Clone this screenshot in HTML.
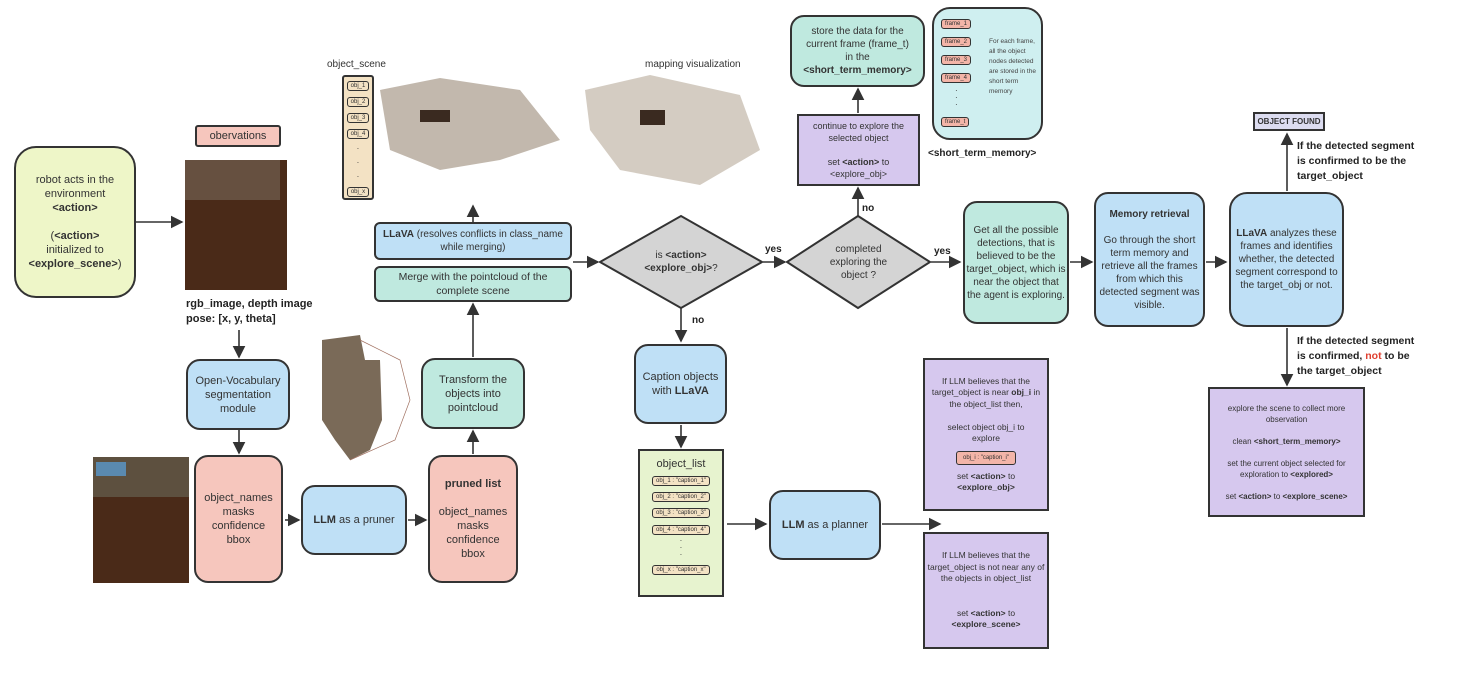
<!DOCTYPE html>
<html><head><meta charset="utf-8"><style>
body{margin:0;width:1475px;height:677px;background:#fff;position:relative;overflow:hidden;font-family:"Liberation Sans",sans-serif;color:#333;}
.b{position:absolute;box-sizing:border-box;border:2px solid #333;display:flex;align-items:center;justify-content:center;text-align:center;font-size:11px;line-height:14px;}
.b>div{width:100%}
.y{background:#eef6c8;border-radius:22px}
.p{background:#f6c6bd;border-radius:14px}
.bl{background:#bfe0f6;border-radius:14px}
.t{background:#bfe9df;border-radius:14px}
.pu{background:#d6c8ee;border-radius:0;font-size:9px;line-height:12px}
.l{position:absolute;font-size:11px;font-weight:bold;color:#222;line-height:15px}
.chip{display:inline-block;border:1.5px solid #333;border-radius:3px;background:#f3b5a8;font-size:6px;line-height:8px;padding:0 3px;margin:2px 0}
.tan{background:#f3e2c4;border-radius:3px}
</style></head><body>

<svg width="1475" height="677" style="position:absolute;left:0;top:0">
<defs><marker id="a" markerWidth="8" markerHeight="8" refX="7" refY="4" orient="auto"><path d="M0,0 L8,4 L0,8 z" fill="#333"/></marker></defs>
<g stroke="#333" stroke-width="1.6" fill="none" marker-end="url(#a)">
<line x1="136" y1="222" x2="182" y2="222"/>
<line x1="239" y1="330" x2="239" y2="357"/>
<line x1="239" y1="430" x2="239" y2="453"/>
<line x1="285" y1="520" x2="299" y2="520"/>
<line x1="408" y1="520" x2="426" y2="520"/>
<line x1="473" y1="454" x2="473" y2="431"/>
<line x1="473" y1="357" x2="473" y2="304"/>
<line x1="473" y1="222" x2="473" y2="206"/>
<line x1="573" y1="262" x2="598" y2="262"/>
<line x1="763" y1="262" x2="785" y2="262"/>
<line x1="858" y1="216" x2="858" y2="188"/>
<line x1="858" y1="113" x2="858" y2="89"/>
<line x1="931" y1="262" x2="960" y2="262"/>
<line x1="1070" y1="262" x2="1092" y2="262"/>
<line x1="1206" y1="262" x2="1226" y2="262"/>
<line x1="1287" y1="191" x2="1287" y2="134"/>
<line x1="1287" y1="328" x2="1287" y2="385"/>
<line x1="681" y1="308" x2="681" y2="341"/>
<line x1="681" y1="425" x2="681" y2="447"/>
<line x1="727" y1="524" x2="766" y2="524"/>
<line x1="882" y1="524" x2="940" y2="524"/>
</g>
<polygon points="600,262 681,216 762,262 681,308" fill="#d4d4d4" stroke="#333" stroke-width="2"/>
<polygon points="787,262 858,216 930,262 858,308" fill="#d4d4d4" stroke="#333" stroke-width="2"/>
<rect x="185" y="160" width="102" height="130" fill="#4a2a18"/>
<rect x="185" y="160" width="95" height="40" fill="#7a6a5c" opacity=".6"/>
<rect x="93" y="457" width="96" height="126" fill="#4a2a18"/>
<rect x="93" y="457" width="96" height="40" fill="#6a6a5a" opacity=".6"/>
<rect x="96" y="462" width="30" height="14" fill="#5a8ab0"/>
<path d="M322,340 L360,335 L365,360 L380,360 L382,420 L370,450 L350,460 L335,440 L322,420z" fill="#7a6a58"/>
<path d="M360,340 L400,360 L410,400 L395,440 L350,460" stroke="#a07060" fill="none" stroke-width=".7"/>
<path d="M380,90 L440,78 L520,90 L560,140 L500,160 L440,170 L390,150z" fill="#a89a8a" opacity=".7"/>
<path d="M585,90 L650,75 L740,95 L760,150 L700,185 L620,170 L590,130z" fill="#b8aa9a" opacity=".6"/>
<rect x="420" y="110" width="30" height="12" fill="#3a2a20"/><rect x="640" y="110" width="25" height="15" fill="#3a2a20"/>
</svg>

<div class="b y" style="left:14px;top:146px;width:122px;height:152px"><div>robot acts in the<br>environment<br><b>&lt;action&gt;</b><br><br>(<b>&lt;action&gt;</b><br>initialized to<br><b>&lt;explore_scene&gt;</b>)</div></div>
<div class="b p" style="left:195px;top:125px;width:86px;height:22px;border-radius:3px"><div>obervations</div></div>
<div class="l" style="left:186px;top:297px">rgb_image, depth image<br>pose: [x, y, theta]</div>
<div class="b bl" style="left:186px;top:359px;width:104px;height:71px"><div>Open-Vocabulary<br>segmentation<br>module</div></div>
<div class="b p" style="left:194px;top:455px;width:89px;height:128px"><div>object_names<br>masks<br>confidence<br>bbox</div></div>
<div class="b bl" style="left:301px;top:485px;width:106px;height:70px"><div><b>LLM</b> as a pruner</div></div>
<div class="b p" style="left:428px;top:455px;width:90px;height:128px"><div><b>pruned list</b><br><br>object_names<br>masks<br>confidence<br>bbox</div></div>
<div class="b t" style="left:421px;top:358px;width:104px;height:71px"><div>Transform the<br>objects into<br>pointcloud</div></div>
<div class="b t" style="left:374px;top:266px;width:198px;height:36px;border-radius:6px;font-size:10.5px"><div>Merge with the pointcloud of the<br>complete scene</div></div>
<div class="b bl" style="left:374px;top:222px;width:198px;height:38px;border-radius:6px;font-size:10px;line-height:13px"><div style="white-space:nowrap"><b>LLaVA</b> (resolves conflicts in class_name<br>while merging)</div></div>
<div style="position:absolute;left:327px;top:59px;font-size:10px">object_scene</div>
<div style="position:absolute;left:645px;top:59px;font-size:10px">mapping visualization</div>
<div class="b tan" style="left:342px;top:75px;width:32px;height:125px"><div><span class="chip tan">obj_1</span><br><span class="chip tan">obj_2</span><br><span class="chip tan">obj_3</span><br><span class="chip tan">obj_4</span><br><span style="font-size:8px;line-height:7px">·<br>·<br>·</span><br><span class="chip tan">obj_x</span></div></div>
<div class="b" style="left:620px;top:240px;width:122px;height:44px;border:none;font-size:10px;line-height:13px"><div>is <b>&lt;action&gt;</b><br><b>&lt;explore_obj&gt;</b>?</div></div>
<div class="b" style="left:807px;top:236px;width:103px;height:52px;border:none;font-size:10px;line-height:13px"><div>completed<br>exploring the<br>object ?</div></div>
<div class="l" style="left:765px;top:242px;font-size:10px">yes</div>
<div class="l" style="left:934px;top:244px;font-size:10px">yes</div>
<div class="l" style="left:862px;top:201px;font-size:10px">no</div>
<div class="l" style="left:692px;top:313px;font-size:10px">no</div>
<div class="b pu" style="left:797px;top:114px;width:123px;height:72px"><div>continue to explore the<br>selected object<br><br>set <b>&lt;action&gt;</b> to<br>&lt;explore_obj&gt;</div></div>
<div class="b t" style="left:790px;top:15px;width:135px;height:72px;font-size:10px;line-height:13px"><div>store the data for the<br>current frame (frame_t)<br>in the<br><b>&lt;short_term_memory&gt;</b></div></div>
<div class="b" style="left:932px;top:7px;width:111px;height:133px;background:#cfeff0;border-radius:18px;align-items:flex-start;justify-content:flex-start;padding:6px 0 0 7px"><div style="width:auto;text-align:left">
<span class="chip" style="margin:2px 0 4px">frame_1</span><br><span class="chip" style="margin:2px 0 4px">frame_2</span><br><span class="chip" style="margin:2px 0 4px">frame_3</span><br><span class="chip" style="margin:4px 0 4px">frame_4</span><br><span style="font-size:8px;line-height:7px;padding-left:14px;display:inline-block">·<br>·<br>·</span><br><span class="chip" style="margin-top:6px">frame_t</span></div></div>
<div style="position:absolute;left:989px;top:37px;font-size:6.5px;line-height:10px;width:50px;color:#444">For each frame, all the object nodes detected are stored in the short term memory</div>
<div class="l" style="left:928px;top:146px;font-size:10px">&lt;short_term_memory&gt;</div>
<div class="b t" style="left:963px;top:201px;width:106px;height:123px;font-size:10px;line-height:13px"><div>Get all the possible detections, that is believed to be the target_object, which is near the object that the agent is exploring.</div></div>
<div class="b bl" style="left:1094px;top:192px;width:111px;height:135px;font-size:10px;line-height:13px"><div><b>Memory retrieval</b><br><br>Go through the short term memory and retrieve all the frames from which this detected segment was visible.</div></div>
<div class="b bl" style="left:1229px;top:192px;width:115px;height:135px;border-radius:18px;font-size:10px;line-height:13px"><div><b>LLaVA</b> analyzes these frames and identifies whether, the detected segment correspond to the target_obj or not.</div></div>
<div class="b" style="left:1253px;top:112px;width:72px;height:19px;background:#dcdcf0;font-size:8px;font-weight:bold;border-radius:0"><div>OBJECT FOUND</div></div>
<div class="l" style="left:1297px;top:139px;font-size:10.5px">If the detected segment<br>is confirmed to be the<br>target_object</div>
<div class="l" style="left:1297px;top:334px;font-size:10.5px">If the detected segment<br>is confirmed, <span style="color:#e04030">not</span> to be<br>the target_object</div>
<div class="b pu" style="left:1208px;top:387px;width:157px;height:130px;font-size:8px;line-height:11px"><div>explore the scene to collect more<br>observation<br><br>clean <b>&lt;short_term_memory&gt;</b><br><br>set the current object selected for<br>exploration to <b>&lt;explored&gt;</b><br><br>set <b>&lt;action&gt;</b> to <b>&lt;explore_scene&gt;</b></div></div>
<div class="b bl" style="left:634px;top:344px;width:93px;height:80px"><div>Caption objects<br>with <b>LLaVA</b></div></div>
<div class="b" style="left:638px;top:449px;width:86px;height:148px;background:#e7f3cf;border-radius:0;align-items:flex-start;padding-top:6px"><div>object_list<br>
<span class="chip tan" style="margin-top:5px">obj_1 : "caption_1"</span><br><span class="chip tan">obj_2 : "caption_2"</span><br><span class="chip tan">obj_3 : "caption_3"</span><br><span class="chip tan" style="margin-top:5px">obj_4 : "caption_4"</span><br><span style="font-size:8px;line-height:7px;display:inline-block">·<br>·<br>·</span><br><span class="chip tan">obj_x : "caption_x"</span></div></div>
<div class="b bl" style="left:769px;top:490px;width:112px;height:70px"><div><b>LLM</b> as a planner</div></div>
<div class="b pu" style="left:923px;top:358px;width:126px;height:153px;font-size:8.5px;line-height:11.5px"><div>If LLM believes that the target_object is near <b>obj_i</b> in the object_list then,<br><br>select object obj_i to<br>explore<br><span class="chip" style="margin:6px 0;font-size:6px;padding:2px 6px">obj_i : "caption_i"</span><br>set <b>&lt;action&gt;</b> to<br><b>&lt;explore_obj&gt;</b></div></div>
<div class="b pu" style="left:923px;top:532px;width:126px;height:117px;font-size:8.5px;line-height:11.5px"><div>If LLM believes that the target_object is not near any of the objects in object_list<br><br><br>set <b>&lt;action&gt;</b> to<br><b>&lt;explore_scene&gt;</b></div></div>
</body></html>
